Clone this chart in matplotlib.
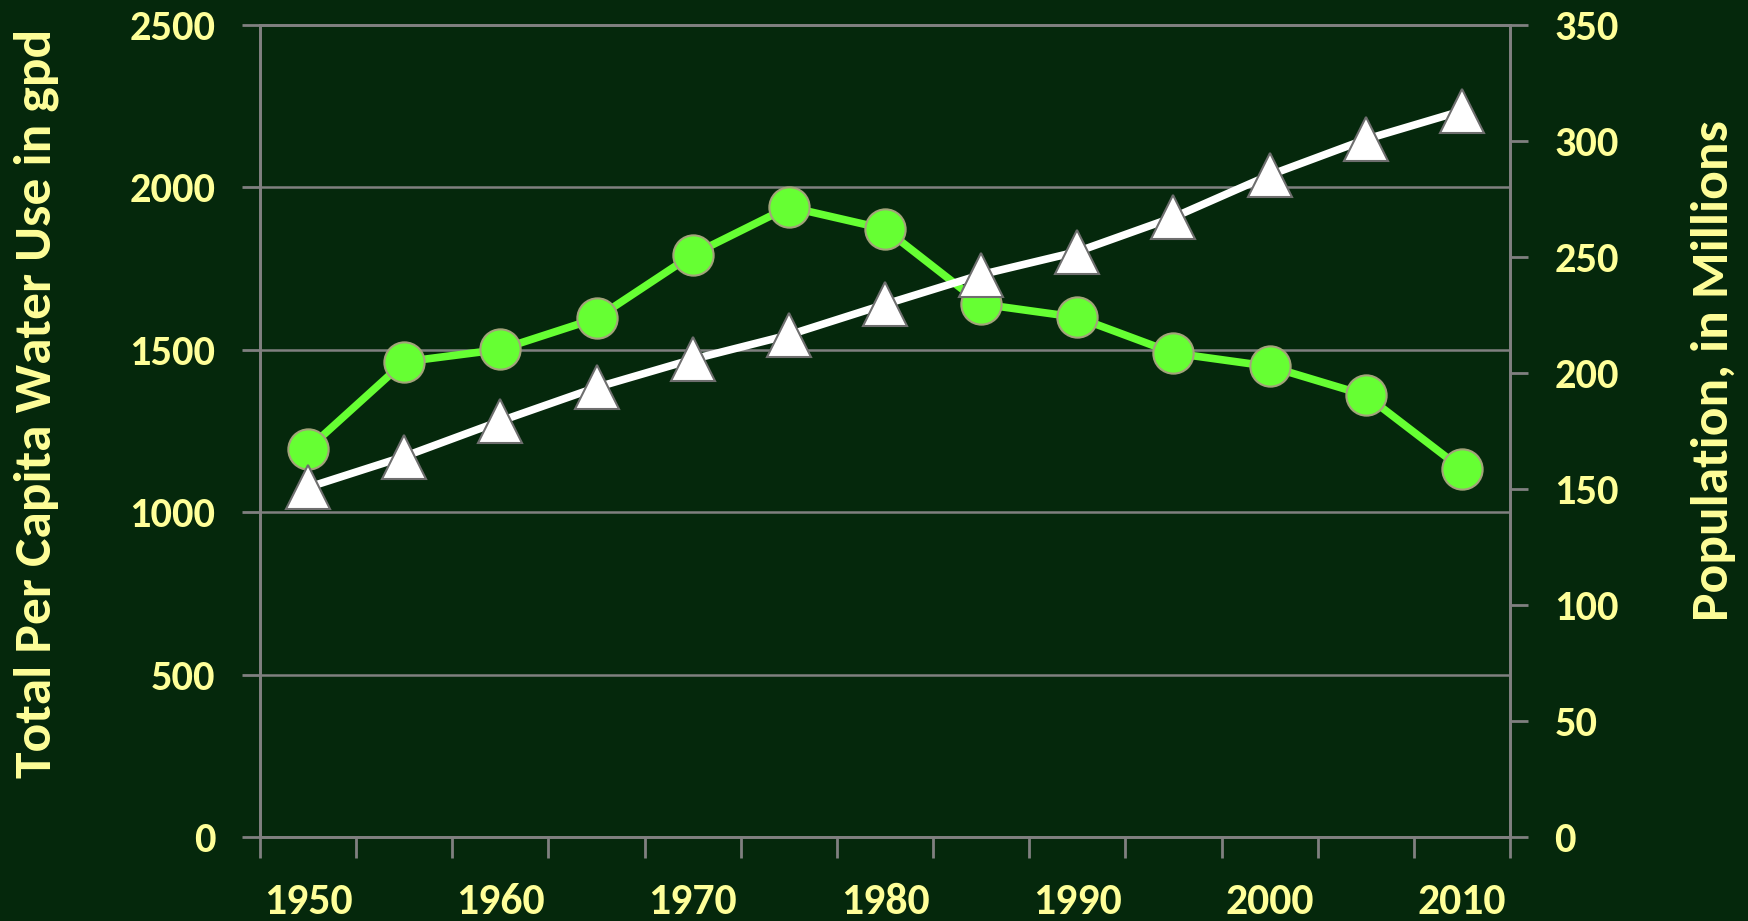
import matplotlib.pyplot as plt
from matplotlib.ticker import FixedLocator, NullFormatter

# Data
years = [1950, 1955, 1960, 1965, 1970, 1975, 1980, 1985, 1990, 1995, 2000, 2005, 2010]
per_capita_gpd = [1195, 1463, 1501, 1597, 1793, 1940, 1872, 1641, 1600, 1490, 1449, 1360, 1133]
population_millions = [150.7, 164.0, 179.3, 193.8, 205.9, 216.4, 229.6, 242.4, 252.3, 267.1, 285.3, 300.7, 313.0]
left_ticks = [0, 500, 1000, 1500, 2000, 2500]
right_ticks = [0, 50, 100, 150, 200, 250, 300, 350]

bg = '#05280c'
txt = '#ffff99'
axis_gray = '#808080'

plt.rcParams['font.family'] = ['Carlito', 'Lato', 'DejaVu Sans']
plt.rcParams['font.weight'] = 'bold'

fig = plt.figure(figsize=(17.48, 9.21), dpi=100, facecolor=bg)
ax = fig.add_axes([260 / 1748, 1 - 837 / 921, 1250 / 1748, 812 / 921])
ax.set_facecolor(bg)
ax2 = ax.twinx()

x = list(range(len(years)))

# per capita use (left axis)
ax.plot(x, per_capita_gpd, color='#66ff33', linewidth=5.5, marker='o', markersize=29,
        markerfacecolor='#66ff33', markeredgecolor='#a3a37a', markeredgewidth=1.5, zorder=3)

# population (right axis)
ax2.plot(x, population_millions, color='white', linewidth=5.5, marker='^', markersize=32,
         markerfacecolor='white', markeredgecolor='#6e6e6e', markeredgewidth=1.5, zorder=3)

ax.set_xlim(-0.5, len(years) - 0.5)
ax.set_ylim(0, 2500)
ax2.set_ylim(0, 350)

# category axis: ticks between categories, labels every 10 years
ax.xaxis.set_major_locator(FixedLocator([i - 0.5 for i in range(len(years) + 1)]))
ax.xaxis.set_major_formatter(NullFormatter())
ax.xaxis.set_minor_locator(FixedLocator(x[::2]))
ax.set_xticklabels([str(y) for y in years[::2]], minor=True, fontweight='bold')
ax.tick_params(axis='x', which='major', length=15, width=2, color=axis_gray, direction='out')
ax.tick_params(axis='x', which='minor', length=0, pad=33, labelsize=31.5, labelcolor=txt)

ax.set_yticks(left_ticks)
ax.set_yticklabels([str(t) for t in left_ticks], fontweight='bold')
ax.tick_params(axis='y', length=13, width=2, color=axis_gray, direction='out', pad=19,
               labelsize=30.5, labelcolor=txt)
ax2.set_yticks(right_ticks)
ax2.set_yticklabels([str(t) for t in right_ticks], fontweight='bold')
ax2.tick_params(axis='y', length=13, width=2, color=axis_gray, direction='out', pad=19,
                labelsize=30.5, labelcolor=txt)

ax.grid(axis='y', color=axis_gray, linewidth=1.8)
ax.set_axisbelow(True)
for a in (ax, ax2):
    for s in a.spines.values():
        s.set_color(axis_gray)
        s.set_linewidth(2)

fig.text(36 / 1748, 1 - 403 / 921, 'Total Per Capita Water Use in gpd', rotation=90,
         ha='center', va='center', fontsize=38.5, color=txt, fontweight='bold')
fig.text(1713 / 1748, 1 - 371 / 921, 'Population, in Millions', rotation=90,
         ha='center', va='center', fontsize=38.5, color=txt, fontweight='bold')

fig.savefig('out.png', dpi=100, facecolor=bg)
